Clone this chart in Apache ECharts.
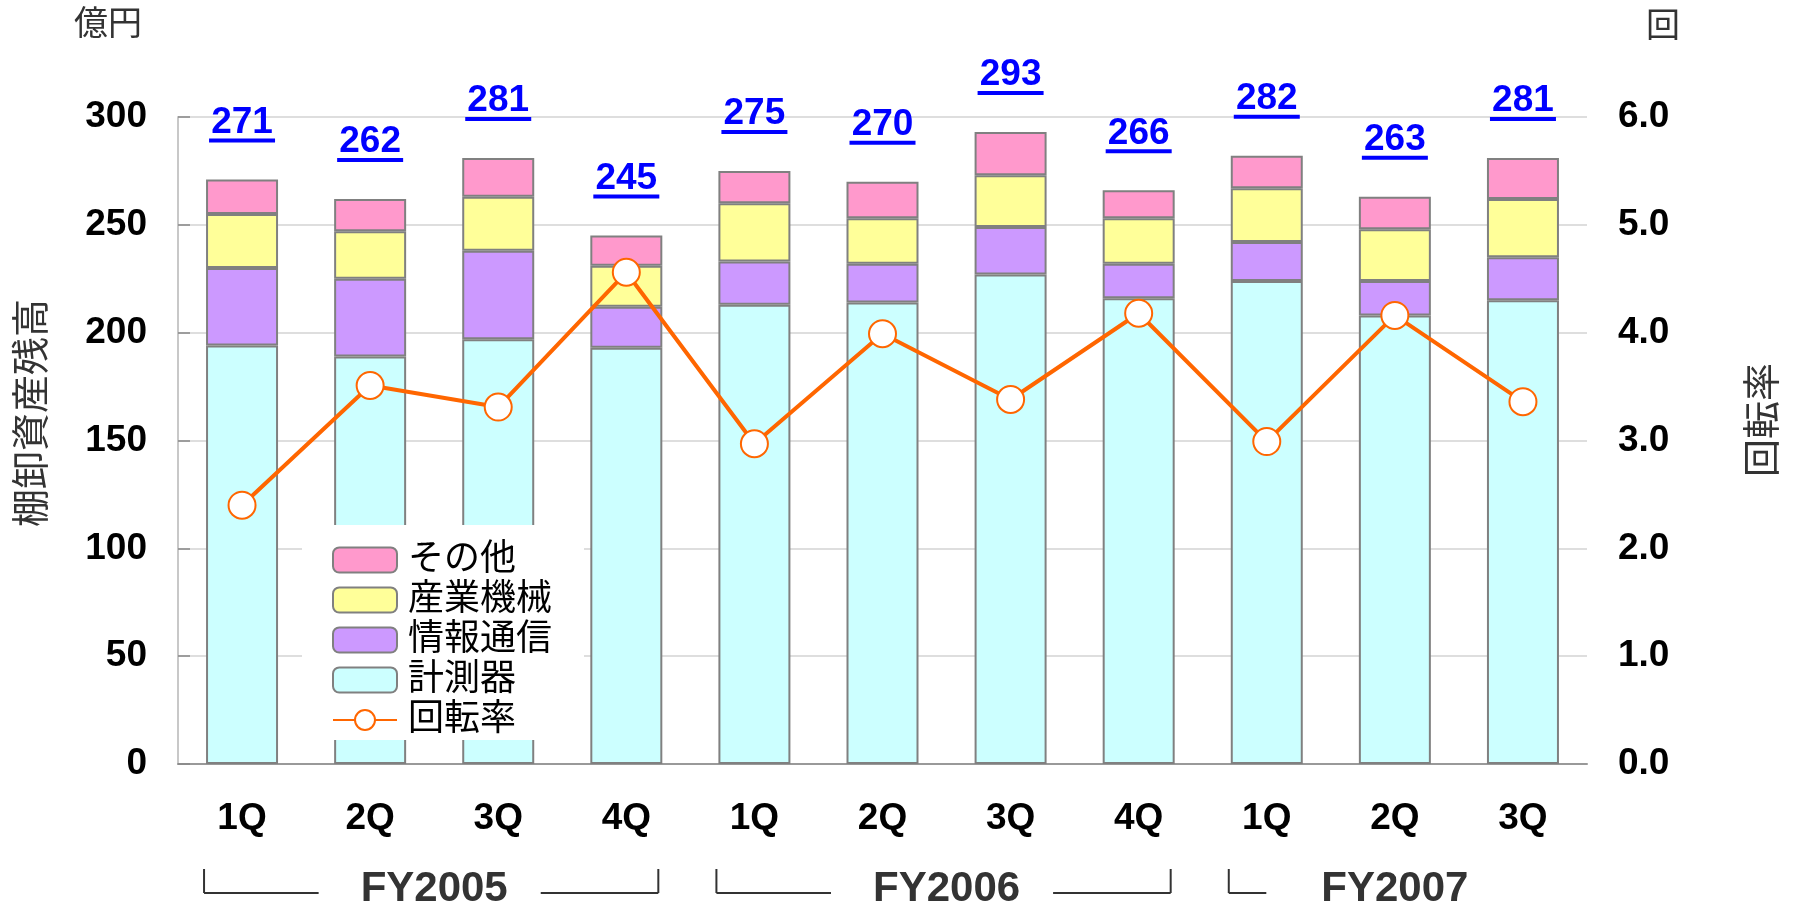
<!DOCTYPE html>
<html>
<head>
<meta charset="utf-8">
<script src="https://cdn.jsdelivr.net/npm/echarts@6/dist/echarts.min.js"></script>
<style>
  html, body { margin: 0; padding: 0; background: #fff; }
  #chart { width: 1793px; height: 914px; }
</style>
</head>
<body>
<div id="chart"></div>
<script>
const categories = ['1Q', '2Q', '3Q', '4Q', '1Q', '2Q', '3Q', '4Q', '1Q', '2Q', '3Q']
const keisokuki = [194, 189, 197, 193, 213, 214, 227, 216, 224, 208, 215]   // 計測器
const johoTsushin = [36, 36, 41, 19, 20, 18, 22, 16, 18, 16, 20]          // 情報通信
const sangyoKikai = [25, 22, 25, 19, 27, 21, 24, 21, 25, 24, 27]          // 産業機械
const sonota = [16, 15, 18, 14, 15, 17, 20, 13, 15, 15, 19]               // その他
const totals = [271, 262, 281, 245, 275, 270, 293, 266, 282, 263, 281]
const kaitenritsu = [2.40, 3.51, 3.31, 4.56, 2.97, 3.99, 3.38, 4.18, 2.99, 4.16, 3.36]

const fyNames = ['FY2005', 'FY2006', 'FY2007']
const fyStart = [0, 4, 8]
const fyEnd = [3, 7, 10]
const fyLabelAt = [[1, 2], [5, 6], [9, 9]]
const fyClosed = [true, true, false]

const FONT = "'Liberation Sans', Arial, 'Noto Sans CJK JP', sans-serif"
const BAR_W = 72

const chart = echarts.init(document.getElementById('chart'))

const barSeries = (name, data, color, extra) => Object.assign({
  name: name,
  type: 'bar',
  stack: 'total',
  barWidth: BAR_W,
  data: data,
  itemStyle: { color: color, borderColor: '#808080', borderWidth: 2 }
}, extra || {})

const option = {
  animation: false,
  textStyle: { fontFamily: FONT },
  grid: { left: 178, right: 206, top: 117, bottom: 150 },
  legend: {
    orient: 'vertical',
    left: 302,
    top: 525,
    padding: [17, 32, 2, 30],
    backgroundColor: '#ffffff',
    itemWidth: 64,
    itemHeight: 25,
    itemGap: 4,
    textStyle: { fontSize: 36, color: '#000', lineHeight: 36, padding: [0, 0, 0, 6], fontFamily: FONT },
    data: ['その他', '産業機械', '情報通信', '計測器', '回転率']
  },
  xAxis: {
    type: 'category',
    data: categories,
    axisLine: { lineStyle: { color: '#999', width: 2 } },
    axisTick: { inside: true, length: 12, lineStyle: { color: '#999', width: 1.5 } },
    axisLabel: { fontSize: 37, fontWeight: 'bold', color: '#000', margin: 36 }
  },
  yAxis: [{
    type: 'value',
    min: 0,
    max: 300,
    interval: 50,
    axisLine: { show: true, lineStyle: { color: '#c8c8c8', width: 2 } },
    axisTick: { show: true, inside: true, length: 12, lineStyle: { color: '#888', width: 1.5 } },
    axisLabel: { fontSize: 37, fontWeight: 'bold', color: '#000', margin: 31 },
    splitLine: { lineStyle: { color: '#d3d3d3', width: 1.5 } }
  }, {
    type: 'value',
    min: 0,
    max: 6,
    interval: 1,
    axisLine: { show: false },
    axisTick: { show: false },
    splitLine: { show: false },
    axisLabel: {
      fontSize: 37, fontWeight: 'bold', color: '#000', margin: 31,
      formatter: (v) => v.toFixed(1)
    }
  }],
  series: [
    barSeries('計測器', keisokuki, '#CCFFFF'),
    barSeries('情報通信', johoTsushin, '#CC99FF'),
    barSeries('産業機械', sangyoKikai, '#FFFF99'),
    barSeries('その他', sonota, '#FF99CC', {
      label: {
        show: true,
        position: 'top',
        distance: 37,
        formatter: (p) => `{n|${totals[p.dataIndex]}}\n{u| }`,
        rich: {
          n: { fontSize: 37, fontWeight: 'bold', color: '#0000FF', lineHeight: 32, fontFamily: FONT },
          u: { width: 66, height: 4, lineHeight: 4, backgroundColor: '#0000FF' }
        }
      }
    }),
    {
      name: '回転率',
      type: 'line',
      yAxisIndex: 1,
      data: kaitenritsu,
      symbol: 'circle',
      symbolSize: 27,
      z: 5,
      lineStyle: { color: '#FF6600', width: 4 },
      itemStyle: { color: '#ffffff', borderColor: '#FF6600', borderWidth: 2 }
    }
  ]
}

chart.setOption(option)

// FY group brackets under the quarter labels
const ctx = document.createElement('canvas').getContext('2d')
const fyFont = 'bold 42px ' + FONT
ctx.font = fyFont
const px = (i) => chart.convertToPixel({ xAxisIndex: 0 }, i)
const lineY = 893
const tickTop = 869
const stroke = { stroke: '#333', lineWidth: 2 }
const graphics = []

fyNames.forEach((name, g) => {
  const cx = (px(fyLabelAt[g][0]) + px(fyLabelAt[g][1])) / 2
  const half = ctx.measureText(name).width / 2
  const xl = px(fyStart[g]) - BAR_W / 2 - 2
  const xr = px(fyEnd[g]) + BAR_W / 2 - 4
  graphics.push({
    type: 'text', x: cx, y: 889,
    style: { text: name, font: fyFont, fill: '#333', textAlign: 'center', textVerticalAlign: 'middle' }
  })
  graphics.push({ type: 'line', shape: { x1: xl, y1: tickTop, x2: xl, y2: lineY }, style: stroke })
  graphics.push({ type: 'line', shape: { x1: xl, y1: lineY, x2: cx - half - (fyClosed[g] ? 42 : 55), y2: lineY }, style: stroke })
  if (fyClosed[g]) {
    graphics.push({ type: 'line', shape: { x1: cx + half + 33, y1: lineY, x2: xr, y2: lineY }, style: stroke })
    graphics.push({ type: 'line', shape: { x1: xr, y1: tickTop, x2: xr, y2: lineY }, style: stroke })
  }
})

// axis titles
const titleFont = (size) => size + 'px ' + FONT
graphics.push({
  type: 'text', x: 108, y: 26,
  style: { text: '億円', font: titleFont(34), fill: '#333', textAlign: 'center', textVerticalAlign: 'middle' }
})
graphics.push({
  type: 'text', x: 1663, y: 28,
  style: { text: '回', font: titleFont(34), fill: '#333', textAlign: 'center', textVerticalAlign: 'middle' }
})
graphics.push({
  type: 'text', x: 34, y: 413, rotation: Math.PI / 2,
  style: { text: '棚卸資産残高', font: titleFont(38), fill: '#333', textAlign: 'center', textVerticalAlign: 'middle' }
})
graphics.push({
  type: 'text', x: 1765, y: 420, rotation: Math.PI / 2,
  style: { text: '回転率', font: titleFont(38), fill: '#333', textAlign: 'center', textVerticalAlign: 'middle' }
})

chart.setOption({ graphic: graphics })
</script>
</body>
</html>
